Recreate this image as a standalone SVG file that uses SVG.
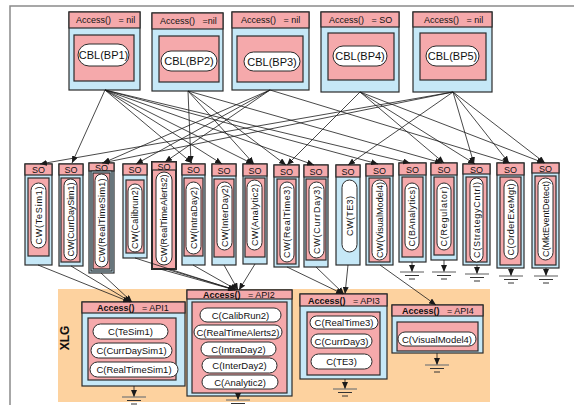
<svg xmlns="http://www.w3.org/2000/svg" width="574" height="405" viewBox="0 0 574 405">
<defs>
<marker id="ah" markerUnits="userSpaceOnUse" markerWidth="7" markerHeight="6" refX="7" refY="3" orient="auto"><path d="M0,0 L7,3 L0,6 z" fill="#1a1a1a"/></marker>
<g id="gnd"><path d="M-12,0 H12" stroke="#777" stroke-width="1.2"/><path d="M-7,3.5 H7 M-3,7 H3" stroke="#333" stroke-width="1"/></g>
</defs>
<style>
text{font-family:"Liberation Sans",Arial,sans-serif;fill:#111}
.frame{stroke:#8a8a8a;stroke-width:1.5;fill:none}
.blue{fill:#c6e8f7;stroke:#2b2b2b;stroke-width:1.2}
.pink{fill:#f5a9ab;stroke:#2b2b2b;stroke-width:1.2}
.pill{fill:#fff;stroke:#2b2b2b;stroke-width:1}
.hd{font-size:9px}
.hb{font-size:9px;font-weight:bold}
.cbl{font-size:11px;text-anchor:middle}
.v{font-size:9px;text-anchor:middle}
.c{font-size:9.5px;text-anchor:middle}
.so{font-size:9px;text-anchor:middle}
.ln{stroke:#1a1a1a;stroke-width:0.8;fill:none;marker-end:url(#ah)}
</style>
<rect width="574" height="405" fill="#fff"/>
<path class="frame" d="M10,405 V6 H574"/>
<rect x="58" y="289" width="432" height="113" fill="#fdd29f"/>
<text x="0" y="0" transform="translate(69,338) rotate(-90)" font-size="12" font-weight="bold" text-anchor="middle">XLG</text>

<!-- top layer: building-block containers -->
<g id="bp1">
<rect class="blue" x="69" y="12" width="71" height="78"/><rect class="pink" x="69" y="12" width="71" height="16"/>
<text class="hd" x="76" y="23" xml:space="preserve">Access()   = nil</text>
<rect class="pink" x="74" y="35" width="60" height="46"/><rect class="pill" x="78" y="44" width="51" height="22" rx="11"/>
<text class="cbl" x="103.5" y="59">CBL(BP1)</text>
</g>
<g id="bp2">
<rect class="blue" x="152" y="13" width="71" height="78"/><rect class="pink" x="152" y="13" width="71" height="16"/>
<text class="hd" x="160" y="24" xml:space="preserve">Access()   =nil</text>
<rect class="pink" x="159" y="36" width="60" height="46"/><rect class="pill" x="161" y="51" width="56" height="20" rx="10"/>
<text class="cbl" x="189" y="65">CBL(BP2)</text>
</g>
<g id="bp3">
<rect class="blue" x="232" y="12" width="77" height="78"/><rect class="pink" x="232" y="12" width="77" height="16"/>
<text class="hd" x="241" y="23" xml:space="preserve">Access()   = nil</text>
<rect class="pink" x="237" y="36" width="66" height="46"/><rect class="pill" x="244" y="52" width="56" height="19" rx="9.5"/>
<text class="cbl" x="272" y="65.5">CBL(BP3)</text>
</g>
<g id="bp4">
<rect class="blue" x="321" y="12" width="78" height="80"/><rect class="pink" x="321" y="12" width="78" height="15"/>
<text class="hd" x="329" y="23" xml:space="preserve">Access()   = SO</text>
<rect class="pink" x="328" y="33" width="66" height="47"/><rect class="pill" x="333" y="46" width="54" height="20" rx="10"/>
<text class="cbl" x="360" y="60">CBL(BP4)</text>
</g>
<g id="bp5">
<rect class="blue" x="413" y="12" width="79" height="80"/><rect class="pink" x="413" y="12" width="79" height="15"/>
<text class="hd" x="424" y="23" xml:space="preserve">Access()   = nil</text>
<rect class="pink" x="420" y="33" width="66" height="47"/><rect class="pill" x="426" y="46" width="53" height="20" rx="10"/>
<text class="cbl" x="452.5" y="60">CBL(BP5)</text>
</g>

<!-- middle layer: component wrappers -->
<g id="cw1"><rect class="blue" x="25" y="164" width="27" height="101"/><rect class="pink" x="25" y="164" width="27" height="11"/><text class="so" x="38.5" y="173">SO</text>
<rect class="pink" x="28" y="178" width="21" height="78"/><rect class="pill" x="31" y="183" width="15" height="65" rx="7.5"/>
<text class="v" transform="translate(41.8,215.5) rotate(-90)" textLength="58" lengthAdjust="spacing">CW(TeSim1)</text></g>
<g id="cw2"><rect class="blue" x="59" y="164" width="24" height="102"/><rect class="pink" x="59" y="164" width="24" height="11"/><text class="so" x="71" y="173">SO</text>
<rect class="pink" x="61" y="178" width="19" height="84"/><rect class="pill" x="64" y="179" width="13" height="81" rx="6.5"/>
<text class="v" transform="translate(73.8,219.5) rotate(-90)" textLength="74" lengthAdjust="spacing">CW(CurrDaySim1)</text></g>
<g id="cw3"><rect class="blue" x="89" y="163" width="25" height="110"/><rect class="pink" x="89" y="163" width="25" height="8"/><text class="so" x="101.5" y="170.5">SO</text>
<rect class="blue" x="91" y="171" width="21" height="100"/><rect class="pink" x="93" y="173" width="17" height="96"/><rect class="pill" x="95" y="174" width="13" height="93" rx="6.5"/>
<text class="v" transform="translate(104.8,220.5) rotate(-90)" textLength="84" lengthAdjust="spacing">CW(RealTimeSim1)</text></g>
<g id="cw4"><rect class="blue" x="123" y="164" width="24" height="94"/><rect class="pink" x="123" y="164" width="24" height="11"/><text class="so" x="135" y="173">SO</text>
<rect class="pink" x="126" y="180" width="18" height="73"/><rect class="pill" x="128" y="184" width="14" height="68" rx="7"/>
<text class="v" transform="translate(138.3,218) rotate(-90)" textLength="62" lengthAdjust="spacing">CW(Calibrun2)</text></g>
<g id="cw5"><rect class="pink" x="152" y="162" width="24" height="107" style="stroke-width:2"/><rect class="pink" x="152" y="162" width="24" height="8"/><text class="so" x="164" y="169.5">SO</text>
<rect class="pill" x="156" y="172" width="16" height="93" rx="8"/>
<text class="v" transform="translate(167.3,218.5) rotate(-90)" textLength="88" lengthAdjust="spacing">CW(RealTimeAlerts2)</text></g>
<g id="cw6"><rect class="blue" x="182" y="164" width="23" height="101"/><rect class="pink" x="182" y="164" width="23" height="11"/><text class="so" x="193.5" y="173">SO</text>
<rect class="pink" x="184" y="178" width="19" height="78"/><rect class="pill" x="186" y="182" width="15" height="72" rx="7.5"/>
<text class="v" transform="translate(196.8,218) rotate(-90)" textLength="62" lengthAdjust="spacing">CW(IntraDay2)</text></g>
<g id="cw7"><rect class="blue" x="212" y="164" width="24" height="101"/><rect class="pink" x="212" y="164" width="24" height="12"/><text class="so" x="224" y="173.5">SO</text>
<rect class="pink" x="214" y="179" width="20" height="78"/><rect class="pill" x="217" y="182" width="15" height="68" rx="7.5"/>
<text class="v" transform="translate(227.8,216) rotate(-90)" textLength="62" lengthAdjust="spacing">CW(InterDay2)</text></g>
<g id="cw8"><rect class="blue" x="243" y="164" width="24" height="100"/><rect class="pink" x="243" y="164" width="24" height="12"/><text class="so" x="255" y="173.5">SO</text>
<rect class="pink" x="245" y="178" width="20" height="79"/><rect class="pill" x="247" y="180" width="15" height="70" rx="7.5"/>
<text class="v" transform="translate(257.8,215) rotate(-90)" textLength="62" lengthAdjust="spacing">CW(Analytic2)</text></g>
<g id="cw9"><rect class="blue" x="274" y="165" width="25" height="102"/><rect class="pink" x="274" y="165" width="25" height="12"/><text class="so" x="286.5" y="174.5">SO</text>
<rect class="pink" x="277" y="179" width="19" height="85"/><rect class="pill" x="280" y="182" width="14" height="80" rx="7"/>
<text class="v" transform="translate(290.3,222) rotate(-90)" textLength="72" lengthAdjust="spacing">CW(RealTime3)</text></g>
<g id="cw10"><rect class="blue" x="304" y="165" width="24" height="102"/><rect class="pink" x="304" y="165" width="24" height="12"/><text class="so" x="316" y="174.5">SO</text>
<rect class="pink" x="306" y="179" width="20" height="81"/><rect class="pill" x="309" y="182" width="15" height="76" rx="7.5"/>
<text class="v" transform="translate(319.8,220) rotate(-90)" textLength="68" lengthAdjust="spacing">CW(CurrDay3)</text></g>
<g id="cw11"><rect class="blue" x="336" y="165" width="24" height="100"/><rect class="pink" x="336" y="165" width="24" height="12"/><text class="so" x="348" y="174.5">SO</text>
<rect class="pill" x="342" y="180" width="15" height="72" rx="7.5"/>
<text class="v" transform="translate(352.8,216) rotate(-90)" textLength="40" lengthAdjust="spacing">CW(TE3)</text></g>
<g id="cw12"><rect class="blue" x="366" y="164" width="27" height="101"/><rect class="pink" x="366" y="164" width="27" height="12"/><text class="so" x="379.5" y="173.5">SO</text>
<rect class="pink" x="369" y="178" width="21" height="84"/><rect class="pill" x="372" y="180" width="15" height="80" rx="7.5"/>
<text class="v" transform="translate(382.8,220) rotate(-90)" textLength="76" lengthAdjust="spacing">CW(VisualModel4)</text></g>
<g id="c13"><rect class="blue" x="399" y="163" width="27" height="99"/><rect class="pink" x="399" y="163" width="27" height="12"/><text class="so" x="412.5" y="172.5">SO</text>
<rect class="pink" x="402" y="177" width="21" height="80"/><rect class="pill" x="405" y="183" width="14" height="67" rx="7"/>
<text class="v" transform="translate(415.3,216.5) rotate(-90)" textLength="60" lengthAdjust="spacing">C(BAnalytics)</text></g>
<g id="c14"><rect class="blue" x="431" y="163" width="26" height="97"/><rect class="pink" x="431" y="163" width="26" height="12"/><text class="so" x="444" y="172.5">SO</text>
<rect class="pink" x="434" y="177" width="20" height="78"/><rect class="pill" x="437" y="183" width="14" height="67" rx="7"/>
<text class="v" transform="translate(447.3,216.5) rotate(-90)" textLength="60" lengthAdjust="spacing">C(Regulator)</text></g>
<g id="c15"><rect class="blue" x="463" y="164" width="27" height="101"/><rect class="pink" x="463" y="164" width="27" height="10"/><text class="so" x="476.5" y="172.5">SO</text>
<rect class="pink" x="466" y="177" width="21" height="85"/><rect class="pill" x="470" y="178" width="13" height="84" rx="6.5"/>
<text class="v" transform="translate(479.8,220) rotate(-90)" textLength="76" lengthAdjust="spacing">C(StrategyCntrl)</text></g>
<g id="c16"><rect class="blue" x="497" y="163" width="27" height="105"/><rect class="pink" x="497" y="163" width="27" height="12"/><text class="so" x="510.5" y="172.5">SO</text>
<rect class="pink" x="500" y="177" width="21" height="88"/><rect class="pill" x="504" y="180" width="14" height="79" rx="7"/>
<text class="v" transform="translate(514.3,219.5) rotate(-90)" textLength="72" lengthAdjust="spacing">C(OrderExeMgt)</text></g>
<g id="c17"><rect class="blue" x="532" y="163" width="27" height="105"/><rect class="pink" x="532" y="163" width="27" height="10"/><text class="so" x="545.5" y="171.5">SO</text>
<rect class="pink" x="535" y="176" width="21" height="89"/><rect class="pill" x="538" y="178" width="15" height="82" rx="7.5"/>
<text class="v" transform="translate(548.8,219) rotate(-90)" textLength="76" lengthAdjust="spacing">C(MktEventDetect)</text></g>

<!-- XLG layer: API groups -->
<g id="api1">
<rect class="blue" x="82" y="302" width="103" height="84"/><rect class="pink" x="82" y="302" width="103" height="11"/>
<text class="hb" x="97" y="311" xml:space="preserve">Access()   <tspan font-weight="normal">= API1</tspan></text>
<rect class="pink" x="88" y="318" width="88" height="62"/>
<rect class="pill" x="93" y="324" width="75" height="15" rx="7.5"/><text class="c" x="130.5" y="335">C(TeSim1)</text>
<rect class="pill" x="91" y="343" width="81" height="15" rx="7.5"/><text class="c" x="131.5" y="354">C(CurrDaySim1)</text>
<rect class="pill" x="90" y="362" width="88" height="15" rx="7.5"/><text class="c" x="134" y="373">C(RealTimeSim1)</text>
</g>
<g id="api2">
<rect class="blue" x="187" y="290" width="105" height="106"/><rect class="pink" x="187" y="290" width="105" height="9"/>
<text class="hb" x="203" y="298" xml:space="preserve">Access()   <tspan font-weight="normal">= API2</tspan></text>
<rect class="pink" x="192" y="302" width="95" height="91"/>
<rect class="pill" x="200" y="308" width="81" height="14" rx="7"/><text class="c" x="240.5" y="318.5">C(CalibRun2)</text>
<rect class="pill" x="194" y="325" width="88" height="14" rx="7"/><text class="c" x="238" y="335.5">C(RealTimeAlerts2)</text>
<rect class="pill" x="201" y="342" width="75" height="14" rx="7"/><text class="c" x="238.5" y="352.5">C(IntraDay2)</text>
<rect class="pill" x="202" y="358" width="75" height="15" rx="7.5"/><text class="c" x="239.5" y="369">C(InterDay2)</text>
<rect class="pill" x="202" y="375" width="76" height="14" rx="7"/><text class="c" x="240" y="385.5">C(Analytic2)</text>
</g>
<g id="api3">
<rect class="blue" x="300" y="294" width="87" height="85"/><rect class="pink" x="300" y="294" width="87" height="12"/>
<text class="hb" x="308" y="303.5" xml:space="preserve">Access()   <tspan font-weight="normal">= API3</tspan></text>
<rect class="pink" x="307" y="312" width="73" height="63"/>
<rect class="pill" x="310" y="316" width="68" height="13" rx="6.5"/><text class="c" x="344" y="326">C(RealTime3)</text>
<rect class="pill" x="311" y="334" width="61" height="14" rx="7"/><text class="c" x="341.5" y="344.5">C(CurrDay3)</text>
<rect class="pill" x="311" y="354" width="61" height="15" rx="7.5"/><text class="c" x="341.5" y="365">C(TE3)</text>
</g>
<g id="api4">
<rect class="blue" x="392" y="305" width="91" height="48"/><rect class="pink" x="392" y="305" width="91" height="11"/>
<text class="hb" x="402" y="314" xml:space="preserve">Access()   <tspan font-weight="normal">= API4</tspan></text>
<rect class="pink" x="397" y="322" width="81" height="29"/>
<rect class="pill" x="398" y="332" width="78" height="14" rx="7"/><text class="c" x="437" y="342.5">C(VisualModel4)</text>
</g>

<!-- connectors -->
<g id="connectors">
<!-- BP1 -->
<path class="ln" d="M105,90 L72,163"/>
<path class="ln" d="M105,90 L192,163"/>
<path class="ln" d="M105,90 L222,164"/>
<path class="ln" d="M105,90 L253,164"/>
<path class="ln" d="M105,90 L314,165"/>
<path class="ln" d="M105,90 L378,164"/>
<path class="ln" d="M105,90 L410,163"/>
<!-- BP2 -->
<path class="ln" d="M188,91 L191,163"/>
<path class="ln" d="M188,91 L254,164"/>
<path class="ln" d="M188,91 L286,165"/>
<path class="ln" d="M188,91 L442,163"/>
<!-- BP3 -->
<path class="ln" d="M270,90 L103,163"/>
<path class="ln" d="M270,90 L136,164"/>
<path class="ln" d="M270,90 L165,162"/>
<path class="ln" d="M270,90 L510,163"/>
<!-- BP4 -->
<path class="ln" d="M360,92 L287,165"/>
<path class="ln" d="M360,92 L444,163"/>
<path class="ln" d="M360,92 L475,164"/>
<path class="ln" d="M360,92 L544,163"/>
<!-- BP5 -->
<path class="ln" d="M453,92 L40,164"/>
<path class="ln" d="M453,92 L102,163"/>
<path class="ln" d="M453,92 L348,165"/>
<path class="ln" d="M453,92 L474,164"/>
<path class="ln" d="M453,92 L509,163"/>
<path class="ln" d="M453,92 L545,163"/>
<!-- wrappers to API groups -->
<path class="ln" d="M38,265 L130,302"/>
<path class="ln" d="M71,266 L131,302"/>
<path class="ln" d="M101,273 L132,302"/>
<path class="ln" d="M135,258 L235,290"/>
<path class="ln" d="M160,269 L235,290"/>
<path class="ln" d="M166,269 L236,290"/>
<path class="ln" d="M193,265 L237,290"/>
<path class="ln" d="M224,265 L238,290"/>
<path class="ln" d="M255,264 L239,290"/>
<path class="ln" d="M287,267 L343,294"/>
<path class="ln" d="M316,267 L344,294"/>
<path class="ln" d="M348,265 L345,294"/>
<path class="ln" d="M380,265 L436,305"/>
<!-- grounds -->
<path class="ln" d="M412,262 L412,272"/><use href="#gnd" x="412" y="272"/>
<path class="ln" d="M444,260 L444,272"/><use href="#gnd" x="444" y="272"/>
<path class="ln" d="M477,265 L477,274"/><use href="#gnd" x="477" y="274"/>
<path class="ln" d="M511,268 L511,276"/><use href="#gnd" x="511" y="276"/>
<path class="ln" d="M546,268 L546,276"/><use href="#gnd" x="546" y="276"/>
<path class="ln" d="M134,386 L134,397"/><use href="#gnd" x="134" y="397"/>
<path class="ln" d="M238,396 L238,400"/><use href="#gnd" x="238" y="400"/>
<path class="ln" d="M345,379 L345,389"/><use href="#gnd" x="345" y="389"/>
<path class="ln" d="M437,353 L437,365"/><use href="#gnd" x="437" y="365"/>
</g>
</svg>
